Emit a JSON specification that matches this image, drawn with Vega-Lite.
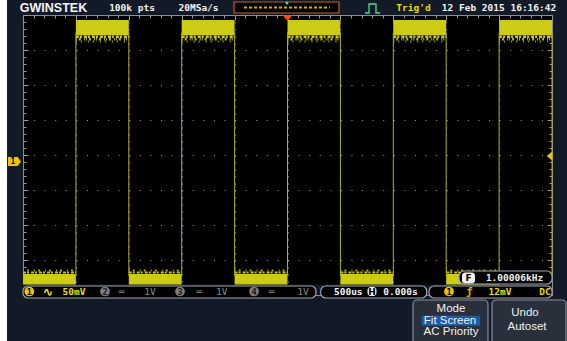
{
"$schema": "https://vega.github.io/schema/vega-lite/v6.json",
"width": 529, "height": 280,
"autosize": {"type": "none"},
"padding": {"left": 23, "top": 15, "right": 15, "bottom": 46},
"background": "#131a27",
"view": {"fill": "#000000", "stroke": "#8c8c8c", "strokeWidth": 1},
"config": {"text": {"font": "DejaVu Sans Mono", "fontWeight": "bold", "fontSize": 9.5, "baseline": "middle", "align": "center"}},
"datasets": {
 "high": [{"t0":-4,"t1":-3,"top":3.86,"core":3.42},{"t0":-2,"t1":-1,"top":3.86,"core":3.42},{"t0":0,"t1":1,"top":3.86,"core":3.42},{"t0":2,"t1":3,"top":3.86,"core":3.42},{"t0":4,"t1":5,"top":3.86,"core":3.42}],
 "low": [{"t0":-5,"t1":-4,"core":-3.4,"bottom":-3.75},{"t0":-3,"t1":-2,"core":-3.4,"bottom":-3.75},{"t0":-1,"t1":0,"core":-3.4,"bottom":-3.75},{"t0":1,"t1":2,"core":-3.4,"bottom":-3.75},{"t0":3,"t1":4,"core":-3.4,"bottom":-3.75}],
 "edges": [{"t":-4},{"t":-3},{"t":-2},{"t":-1},{"t":0},{"t":1},{"t":2},{"t":3},{"t":4},{"t":5}],
 "strip": [{"x0":-5.435,"x1":-5.302,"y0":4.43,"y1":-5.32}],
 "navy": [{"x0":-5,"x1":5,"y0":-3.7,"y1":-4.0}],
 "boxes": [{"x0":-5.0,"x1":0.539,"y0":-3.743,"y1":-4.086},{"x0":0.628,"x1":2.631,"y0":-3.743,"y1":-4.086},{"x0":2.675,"x1":5.0,"y0":-3.743,"y1":-4.086},{"x0":3.242,"x1":5.0,"y0":-3.314,"y1":-3.686}],
 "icons": [{"x0":3.299,"x1":3.544,"y0":-3.357,"y1":-3.671},{"x0":1.512,"x1":1.682,"y0":-3.771,"y1":-4.029}],
 "iconText": [{"x":3.422,"y":-3.514,"s":"F"},{"x":1.597,"y":-3.9,"s":"H"}],
 "orangeBox": [{"x0":-1.011,"x1":0.974,"y0":4.371,"y1":4.057}],
 "wave": [{"x0":-0.822,"x1":0.803,"y":4.214}],
 "cyan": [{"x":-0.009,"y":4.343}],
 "trigIcon": [{"o":1,"x":1.465,"y":4.057},{"o":2,"x":1.541,"y":4.057},{"o":3,"x":1.541,"y":4.314},{"o":4,"x":1.673,"y":4.314},{"o":5,"x":1.673,"y":4.057},{"o":6,"x":1.749,"y":4.057}],
 "trigMark": [{"x":0,"y":3.914}],
 "leftMark": [{"x":-5.161,"y":-0.186}],
 "leftMarkText": [{"x":-5.189,"y":-0.186,"s":"1"}],
 "rightMark": [{"x":4.953,"y":-0.029}],
 "white": [{"x":-2.939,"y":4.2,"s":"100k pts"},{"x":-1.682,"y":4.2,"s":"20MSa/s"},{"x":3.998,"y":4.2,"s":"12 Feb 2015 16:16:42"},{"x":4.291,"y":-3.514,"s":"1.00006kHz"},{"x":1.149,"y":-3.9,"s":"500us"},{"x":2.136,"y":-3.9,"s":"0.000s"}],
 "yellow": [{"x":2.382,"y":4.2,"s":"Trig'd"},{"x":-4.036,"y":-3.9,"s":"50mV"},{"x":4.017,"y":-3.9,"s":"12mV"},{"x":4.868,"y":-3.9,"s":"DC"}],
 "gray": [{"x":-3.134,"y":-3.9,"s":"═"},{"x":-2.599,"y":-3.9,"s":"1V"},{"x":-1.673,"y":-3.9,"s":"═"},{"x":-1.244,"y":-3.9,"s":"1V"},{"x":-0.299,"y":-3.9,"s":"═"},{"x":0.293,"y":-3.9,"s":"1V"}],
 "wavesym": [{"x":-4.522,"y":-3.9,"s":"∿"}],
 "edgesym": [{"x":3.437,"y":-3.9,"s":"ƒ"}],
 "logo": [{"x":-4.423,"y":4.2,"s":"GWINSTEK"}],
 "ycirc": [{"x":-4.881,"y":-3.9,"s":"1"},{"x":3.053,"y":-3.9,"s":"1"}],
 "gcirc": [{"x":-3.45,"y":-3.9,"s":"2"},{"x":-2.032,"y":-3.9,"s":"3"},{"x":-0.633,"y":-3.9,"s":"4"}],
 "buttons": [{"x0":2.372,"x1":3.79,"y0":-4.143,"y1":-5.43},{"x0":3.866,"x1":5.265,"y0":-4.143,"y1":-5.43}],
 "hilite": [{"x0":2.537,"x1":3.639,"y0":-4.591,"y1":-4.877}],
 "btnText": [{"x":3.091,"y":-4.4,"s":"Mode"},{"x":3.072,"y":-4.734,"s":"Fit Screen"},{"x":3.091,"y":-5.071,"s":"AC Priority"},{"x":4.49,"y":-4.5,"s":"Undo"},{"x":4.527,"y":-4.906,"s":"Autoset"}]
},
"resolve": {"axis": {"x": "independent", "y": "independent"}},
"layer": [
 {"data": {"name": "high"}, "mark": {"type": "rect", "color": "#cccc14"},
  "encoding": {
   "x": {"field": "t0", "type": "quantitative", "scale": {"domain": [-5, 5], "nice": false, "zero": false},
    "axis": {"orient": "bottom", "title": null, "labels": false, "domain": false, "ticks": false, "grid": true, "gridDash": [1, 6], "gridColor": "#9a9a9a",
     "gridOpacity": {"condition": {"test": "abs(datum.value - round(datum.value)) < 0.01 && abs(datum.value) < 4.9", "value": 1}, "value": 0},
     "values": [-5,-4.8,-4.6,-4.4,-4.2,-4,-3.8,-3.6,-3.4,-3.2,-3,-2.8,-2.6,-2.4,-2.2,-2,-1.8,-1.6,-1.4,-1.2,-1,-0.8,-0.6,-0.4,-0.2,0,0.2,0.4,0.6,0.8,1,1.2,1.4,1.6,1.8,2,2.2,2.4,2.6,2.8,3,3.2,3.4,3.6,3.8,4,4.2,4.4,4.6,4.8,5]}},
   "x2": {"field": "t1"},
   "y": {"field": "top", "type": "quantitative", "scale": {"domain": [-4, 4], "nice": false, "zero": false},
    "axis": {"orient": "left", "title": null, "labels": false, "domain": false, "ticks": true, "tickColor": "#9a9a9a",
     "tickSize": {"condition": {"test": "abs(datum.value - round(datum.value)) < 0.01", "value": -5}, "value": -3},
     "grid": true, "gridDash": [1, 9.58], "gridColor": "#9a9a9a",
     "gridOpacity": {"condition": {"test": "abs(datum.value - round(datum.value)) < 0.01 && abs(datum.value) < 3.9", "value": 1}, "value": 0},
     "values": [-4,-3.8,-3.6,-3.4,-3.2,-3,-2.8,-2.6,-2.4,-2.2,-2,-1.8,-1.6,-1.4,-1.2,-1,-0.8,-0.6,-0.4,-0.2,0,0.2,0.4,0.6,0.8,1,1.2,1.4,1.6,1.8,2,2.2,2.4,2.6,2.8,3,3.2,3.4,3.6,3.8,4]}},
   "y2": {"field": "core"}}},
 {"data": {"name": "high"}, "mark": {"type": "rule", "color": "#cccc14", "strokeWidth": 2.5, "strokeDash": [3, 1, 2, 2]},
  "encoding": {
   "x": {"field": "t0", "type": "quantitative",
    "axis": {"orient": "top", "title": null, "labels": false, "domain": false, "grid": false, "ticks": true, "tickColor": "#9a9a9a",
     "tickSize": {"condition": {"test": "abs(datum.value - round(datum.value)) < 0.01", "value": -5}, "value": -3},
     "values": [-5,-4.8,-4.6,-4.4,-4.2,-4,-3.8,-3.6,-3.4,-3.2,-3,-2.8,-2.6,-2.4,-2.2,-2,-1.8,-1.6,-1.4,-1.2,-1,-0.8,-0.6,-0.4,-0.2,0,0.2,0.4,0.6,0.8,1,1.2,1.4,1.6,1.8,2,2.2,2.4,2.6,2.8,3,3.2,3.4,3.6,3.8,4,4.2,4.4,4.6,4.8,5]}},
   "x2": {"field": "t1"},
   "y": {"datum": 3.38, "type": "quantitative",
    "axis": {"orient": "right", "title": null, "labels": false, "domain": false, "grid": false, "ticks": true, "tickColor": "#9a9a9a",
     "tickSize": {"condition": {"test": "abs(datum.value - round(datum.value)) < 0.01", "value": -5}, "value": -3},
     "values": [-4,-3.8,-3.6,-3.4,-3.2,-3,-2.8,-2.6,-2.4,-2.2,-2,-1.8,-1.6,-1.4,-1.2,-1,-0.8,-0.6,-0.4,-0.2,0,0.2,0.4,0.6,0.8,1,1.2,1.4,1.6,1.8,2,2.2,2.4,2.6,2.8,3,3.2,3.4,3.6,3.8,4]}}}},
 {"data": {"name": "high"}, "mark": {"type": "rule", "color": "#bcbc12", "strokeWidth": 2.5, "strokeDash": [1, 2, 2, 3, 1, 1]},
  "encoding": {"x": {"field": "t0", "type": "quantitative", "axis": null}, "x2": {"field": "t1"}, "y": {"datum": 3.31, "type": "quantitative", "axis": null}}},
 {"data": {"name": "high"}, "mark": {"type": "rule", "color": "#a8a810", "strokeWidth": 2, "strokeDash": [1, 4, 1, 6]},
  "encoding": {"x": {"field": "t0", "type": "quantitative", "axis": null}, "x2": {"field": "t1"}, "y": {"datum": 3.24, "type": "quantitative", "axis": null}}},
 {"data": {"name": "low"}, "mark": {"type": "rect", "color": "#cccc14"},
  "encoding": {"x": {"field": "t0", "type": "quantitative", "axis": null}, "x2": {"field": "t1"}, "y": {"field": "core", "type": "quantitative", "axis": null}, "y2": {"field": "bottom"}}},
 {"data": {"name": "low"}, "mark": {"type": "rule", "color": "#c4c412", "strokeWidth": 2, "strokeDash": [3, 1, 2, 2]},
  "encoding": {"x": {"field": "t0", "type": "quantitative", "axis": null}, "x2": {"field": "t1"}, "y": {"datum": -3.36, "type": "quantitative", "axis": null}}},
 {"data": {"name": "low"}, "mark": {"type": "rule", "color": "#a8a810", "strokeWidth": 2, "strokeDash": [1, 3, 2, 5]},
  "encoding": {"x": {"field": "t0", "type": "quantitative", "axis": null}, "x2": {"field": "t1"}, "y": {"datum": -3.3, "type": "quantitative", "axis": null}}},
 {"data": {"name": "edges"}, "mark": {"type": "rule", "color": "#b0b010", "strokeWidth": 1},
  "encoding": {"x": {"field": "t", "type": "quantitative", "axis": null}, "y": {"datum": -3.45, "type": "quantitative", "axis": null}, "y2": {"datum": 3.5}}},
 {"data": {"name": "strip"}, "mark": {"type": "rect", "color": "#ffffff"},
  "encoding": {"x": {"field": "x0", "type": "quantitative", "axis": null}, "x2": {"field": "x1"}, "y": {"field": "y0", "type": "quantitative", "axis": null}, "y2": {"field": "y1"}}},
 {"data": {"name": "navy"}, "mark": {"type": "rect", "color": "#131a27"},
  "encoding": {"x": {"field": "x0", "type": "quantitative", "axis": null}, "x2": {"field": "x1"}, "y": {"field": "y0", "type": "quantitative", "axis": null}, "y2": {"field": "y1"}}},
 {"data": {"name": "boxes"}, "mark": {"type": "rect", "fill": "#000000", "stroke": "#a0a6b0", "strokeWidth": 1.2, "cornerRadius": 5},
  "encoding": {"x": {"field": "x0", "type": "quantitative", "axis": null}, "x2": {"field": "x1"}, "y": {"field": "y0", "type": "quantitative", "axis": null}, "y2": {"field": "y1"}}},
 {"data": {"name": "icons"}, "mark": {"type": "rect", "fill": "#f0f0f0", "cornerRadius": 3},
  "encoding": {"x": {"field": "x0", "type": "quantitative", "axis": null}, "x2": {"field": "x1"}, "y": {"field": "y0", "type": "quantitative", "axis": null}, "y2": {"field": "y1"}}},
 {"data": {"name": "iconText"}, "mark": {"type": "text", "color": "#000000", "fontSize": 9, "font": "DejaVu Sans"},
  "encoding": {"x": {"field": "x", "type": "quantitative", "axis": null}, "y": {"field": "y", "type": "quantitative", "axis": null}, "text": {"field": "s"}}},
 {"data": {"name": "orangeBox"}, "mark": {"type": "rect", "fill": "#000000", "stroke": "#c8600c", "strokeWidth": 1.2},
  "encoding": {"x": {"field": "x0", "type": "quantitative", "axis": null}, "x2": {"field": "x1"}, "y": {"field": "y0", "type": "quantitative", "axis": null}, "y2": {"field": "y1"}}},
 {"data": {"name": "wave"}, "mark": {"type": "rule", "color": "#c8b400", "strokeDash": [3, 2], "strokeWidth": 2},
  "encoding": {"x": {"field": "x0", "type": "quantitative", "axis": null}, "x2": {"field": "x1"}, "y": {"field": "y", "type": "quantitative", "axis": null}}},
 {"data": {"name": "cyan"}, "mark": {"type": "point", "shape": "square", "filled": true, "color": "#40e0e0", "size": 6, "opacity": 1},
  "encoding": {"x": {"field": "x", "type": "quantitative", "axis": null}, "y": {"field": "y", "type": "quantitative", "axis": null}}},
 {"data": {"name": "trigIcon"}, "mark": {"type": "line", "color": "#40e090", "strokeWidth": 1.3},
  "encoding": {"x": {"field": "x", "type": "quantitative", "axis": null}, "y": {"field": "y", "type": "quantitative", "axis": null}, "order": {"field": "o"}}},
 {"data": {"name": "trigMark"}, "mark": {"type": "point", "shape": "M-1,-0.6L1,-0.6L0,0.6Z", "filled": true, "color": "#ff4c00", "size": 100, "opacity": 1},
  "encoding": {"x": {"field": "x", "type": "quantitative", "axis": null}, "y": {"field": "y", "type": "quantitative", "axis": null}}},
 {"data": {"name": "leftMark"}, "mark": {"type": "point", "shape": "M-1,-0.7L0.5,-0.7L1,0L0.5,0.7L-1,0.7Z", "filled": true, "color": "#f0c400", "size": 169, "opacity": 1},
  "encoding": {"x": {"field": "x", "type": "quantitative", "axis": null}, "y": {"field": "y", "type": "quantitative", "axis": null}}},
 {"data": {"name": "leftMarkText"}, "mark": {"type": "text", "color": "#000000", "fontSize": 8},
  "encoding": {"x": {"field": "x", "type": "quantitative", "axis": null}, "y": {"field": "y", "type": "quantitative", "axis": null}, "text": {"field": "s"}}},
 {"data": {"name": "rightMark"}, "mark": {"type": "point", "shape": "M0.6,-1L-0.6,0L0.6,1Z", "filled": true, "color": "#f0c400", "size": 81, "opacity": 1},
  "encoding": {"x": {"field": "x", "type": "quantitative", "axis": null}, "y": {"field": "y", "type": "quantitative", "axis": null}}},
 {"data": {"name": "ycirc"}, "mark": {"type": "point", "shape": "circle", "filled": true, "color": "#f0c400", "size": 95, "opacity": 1},
  "encoding": {"x": {"field": "x", "type": "quantitative", "axis": null}, "y": {"field": "y", "type": "quantitative", "axis": null}}},
 {"data": {"name": "ycirc"}, "mark": {"type": "text", "color": "#000000", "fontSize": 8.5},
  "encoding": {"x": {"field": "x", "type": "quantitative", "axis": null}, "y": {"field": "y", "type": "quantitative", "axis": null}, "text": {"field": "s"}}},
 {"data": {"name": "gcirc"}, "mark": {"type": "point", "shape": "circle", "filled": true, "color": "#7c7c7c", "size": 95, "opacity": 1},
  "encoding": {"x": {"field": "x", "type": "quantitative", "axis": null}, "y": {"field": "y", "type": "quantitative", "axis": null}}},
 {"data": {"name": "gcirc"}, "mark": {"type": "text", "color": "#1a1a1a", "fontSize": 8.5},
  "encoding": {"x": {"field": "x", "type": "quantitative", "axis": null}, "y": {"field": "y", "type": "quantitative", "axis": null}, "text": {"field": "s"}}},
 {"data": {"name": "white"}, "mark": {"type": "text", "color": "#f2f2f2"},
  "encoding": {"x": {"field": "x", "type": "quantitative", "axis": null}, "y": {"field": "y", "type": "quantitative", "axis": null}, "text": {"field": "s"}}},
 {"data": {"name": "yellow"}, "mark": {"type": "text", "color": "#e8dc10"},
  "encoding": {"x": {"field": "x", "type": "quantitative", "axis": null}, "y": {"field": "y", "type": "quantitative", "axis": null}, "text": {"field": "s"}}},
 {"data": {"name": "gray"}, "mark": {"type": "text", "color": "#8a8a8a", "fontWeight": "normal"},
  "encoding": {"x": {"field": "x", "type": "quantitative", "axis": null}, "y": {"field": "y", "type": "quantitative", "axis": null}, "text": {"field": "s"}}},
 {"data": {"name": "wavesym"}, "mark": {"type": "text", "color": "#e8dc10", "fontSize": 12},
  "encoding": {"x": {"field": "x", "type": "quantitative", "axis": null}, "y": {"field": "y", "type": "quantitative", "axis": null}, "text": {"field": "s"}}},
 {"data": {"name": "edgesym"}, "mark": {"type": "text", "color": "#e0a800", "fontSize": 11},
  "encoding": {"x": {"field": "x", "type": "quantitative", "axis": null}, "y": {"field": "y", "type": "quantitative", "axis": null}, "text": {"field": "s"}}},
 {"data": {"name": "logo"}, "mark": {"type": "text", "color": "#f4f4f4", "font": "Liberation Sans", "fontSize": 12.5, "fontWeight": "bold"},
  "encoding": {"x": {"field": "x", "type": "quantitative", "axis": null}, "y": {"field": "y", "type": "quantitative", "axis": null}, "text": {"field": "s"}}},
 {"data": {"name": "buttons"}, "mark": {"type": "rect", "fill": "#2a303b", "stroke": "#8a909c", "strokeWidth": 1.2, "cornerRadius": 4},
  "encoding": {"x": {"field": "x0", "type": "quantitative", "axis": null}, "x2": {"field": "x1"}, "y": {"field": "y0", "type": "quantitative", "axis": null}, "y2": {"field": "y1"}}},
 {"data": {"name": "hilite"}, "mark": {"type": "rect", "fill": "#1c5ba6"},
  "encoding": {"x": {"field": "x0", "type": "quantitative", "axis": null}, "x2": {"field": "x1"}, "y": {"field": "y0", "type": "quantitative", "axis": null}, "y2": {"field": "y1"}}},
 {"data": {"name": "btnText"}, "mark": {"type": "text", "color": "#f0f0f0", "font": "Liberation Sans", "fontSize": 11.5, "fontWeight": "normal"},
  "encoding": {"x": {"field": "x", "type": "quantitative", "axis": null}, "y": {"field": "y", "type": "quantitative", "axis": null}, "text": {"field": "s"}}}
]
}
